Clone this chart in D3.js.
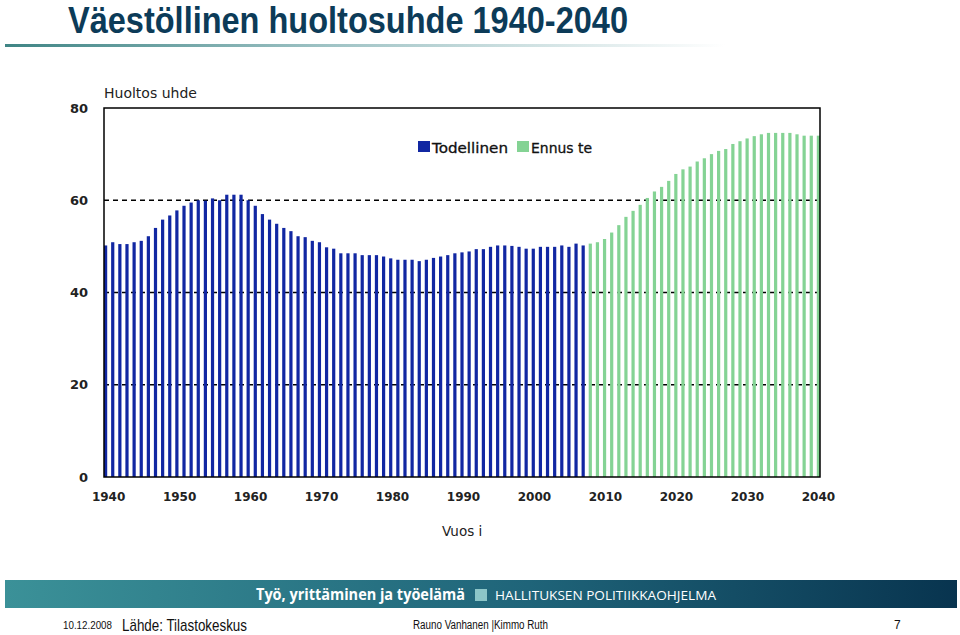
<!DOCTYPE html>
<html>
<head>
<meta charset="utf-8">
<script src="https://cdn.jsdelivr.net/npm/d3@7"></script>
<style>
  body { margin: 0; background: #fff; }
  svg { display: block; }
</style>
</head>
<body>
<div id="chart"></div>
<script>
// Category axis: every year 1940-2040
const years = d3.range(1940, 2041);

// Actual dependency ratio 1940-2007 (Todellinen)
const actualYears = d3.range(1940, 2008);
const actualValues = [
  50.2, 50.9, 50.5, 50.5, 50.9, 51.2, 52.2, 54.0, 55.8, 56.7,
  57.8, 58.8, 59.5, 60.0, 59.9, 60.4, 60.0, 61.2, 61.2, 61.2,
  60.0, 58.8, 57.0, 55.8, 54.9, 54.0, 53.3, 52.2, 52.0, 51.2,
  50.9, 49.8, 49.5, 48.5, 48.5, 48.5, 48.1, 48.1, 48.1, 47.8,
  47.4, 47.1, 47.1, 47.1, 46.8, 47.1, 47.5, 47.8, 48.1, 48.5,
  48.7, 48.9, 49.4, 49.4, 49.9, 50.2, 50.2, 50.1, 49.9, 49.5,
  49.5, 49.9, 49.9, 49.9, 50.2, 49.9, 50.6, 50.2
];

// Forecast 2008-2040 (Ennuste)
const forecastYears = d3.range(2008, 2041);
const forecastValues = [
  50.6, 50.9, 51.6, 53.0, 54.6, 56.4, 57.7, 59.0, 60.5, 61.9,
  62.9, 64.2, 65.7, 66.7, 67.3, 68.4, 69.1, 70.0, 70.7, 71.1,
  72.2, 72.8, 73.4, 73.9, 74.3, 74.6, 74.6, 74.6, 74.6, 74.3,
  74.0, 74.0, 74.0
];

const yTicks = [0, 20, 40, 60, 80];
const gridTicks = [20, 40, 60];
const xTickYears = [1940, 1950, 1960, 1970, 1980, 1990, 2000, 2010, 2020, 2030, 2040];

const series = [
  { name: "Todellinen", label: "Todellinen", color: "#1127a2", years: actualYears, values: actualValues },
  { name: "Ennuste", label: "Ennus te", color: "#84d394", years: forecastYears, values: forecastValues }
];

const W = 960, H = 635;
const svg = d3.select("#chart").append("svg")
    .attr("width", W)
    .attr("height", H);

const defs = svg.append("defs");

// gradient under the title
const lineGrad = defs.append("linearGradient").attr("id", "titleLine");
lineGrad.append("stop").attr("offset", "0%").attr("stop-color", "#3f8585");
lineGrad.append("stop").attr("offset", "45%").attr("stop-color", "#9fc3c5");
lineGrad.append("stop").attr("offset", "100%").attr("stop-color", "#ffffff");

// gradient of the footer banner
const bannerGrad = defs.append("linearGradient").attr("id", "banner");
bannerGrad.append("stop").attr("offset", "0%").attr("stop-color", "#3b9198");
bannerGrad.append("stop").attr("offset", "55%").attr("stop-color", "#1f6479");
bannerGrad.append("stop").attr("offset", "100%").attr("stop-color", "#08344f");

// Title (narrow face is not installed, so squeeze Liberation Sans bold)
svg.append("text")
    .attr("x", 68)
    .attr("y", 33)
    .attr("font-family", "'Liberation Sans', Arial, sans-serif")
    .attr("font-weight", "bold")
    .attr("font-size", 37)
    .attr("fill", "#0c3b58")
    .attr("textLength", 560)
    .attr("lengthAdjust", "spacingAndGlyphs")
    .text("Väestöllinen huoltosuhde 1940-2040");

svg.append("rect")
    .attr("x", 5).attr("y", 44)
    .attr("width", 720).attr("height", 3)
    .attr("fill", "url(#titleLine)");

// Chart area
const plotLeft = 104, plotRight = 820, plotTop = 108, plotBottom = 477;

const x = d3.scaleBand()
    .domain(years)
    .range([plotLeft, plotRight])
    .paddingInner(0.55)
    .paddingOuter(0);

const y = d3.scaleLinear()
    .domain([0, 80])
    .range([plotBottom, plotTop]);

// dashed gridlines
svg.append("g")
  .selectAll("line")
  .data(gridTicks)
  .enter().append("line")
    .attr("x1", plotLeft)
    .attr("x2", plotRight)
    .attr("y1", d => y(d))
    .attr("y2", d => y(d))
    .attr("stroke", "#000")
    .attr("stroke-width", 1.5)
    .attr("stroke-dasharray", "5,4");

// bars
series.forEach(s => {
    svg.append("g")
      .selectAll("rect")
      .data(s.years.map((yr, i) => ({ year: yr, value: s.values[i] })))
      .enter().append("rect")
        .attr("x", d => x(d.year))
        .attr("y", d => y(d.value))
        .attr("width", x.bandwidth())
        .attr("height", d => y(0) - y(d.value))
        .attr("fill", s.color);
});

// frame
svg.append("rect")
    .attr("x", plotLeft)
    .attr("y", plotTop)
    .attr("width", plotRight - plotLeft)
    .attr("height", plotBottom - plotTop)
    .attr("fill", "none")
    .attr("stroke", "#000")
    .attr("stroke-width", 1.5);

// y axis labels
svg.append("g")
  .selectAll("text")
  .data(yTicks)
  .enter().append("text")
    .attr("x", 88)
    .attr("y", d => y(d))
    .attr("dy", "0.35em")
    .attr("text-anchor", "end")
    .attr("font-family", "'DejaVu Sans', sans-serif")
    .attr("font-weight", "bold")
    .attr("font-size", 13)
    .attr("fill", "#222")
    .text(d => d);

// x axis labels
svg.append("g")
  .selectAll("text")
  .data(xTickYears)
  .enter().append("text")
    .attr("x", d => x(d) + x.bandwidth() / 2 + (2040 - d) * 0.03)
    .attr("y", 497)
    .attr("dy", "0.35em")
    .attr("text-anchor", "middle")
    .attr("font-family", "'DejaVu Sans', sans-serif")
    .attr("font-weight", "bold")
    .attr("font-size", 12)
    .attr("fill", "#222")
    .text(d => d);

// axis titles
svg.append("text")
    .attr("x", 104)
    .attr("y", 98)
    .attr("font-family", "'DejaVu Sans', sans-serif")
    .attr("font-size", 14)
    .attr("fill", "#222")
    .text("Huoltos uhde");

svg.append("text")
    .attr("x", 442)
    .attr("y", 536)
    .attr("font-family", "'DejaVu Sans', sans-serif")
    .attr("font-size", 13.5)
    .attr("fill", "#222")
    .text("Vuos i");

// legend
const legend = svg.append("g")
    .attr("transform", "translate(418,141)");

const legendX = [0, 99];
const legendTextW = [76, 61];
series.forEach((s, i) => {
    legend.append("rect")
        .attr("x", legendX[i])
        .attr("y", 0)
        .attr("width", 12)
        .attr("height", 11)
        .attr("fill", s.color);
    legend.append("text")
        .attr("x", legendX[i] + 14)
        .attr("y", 11.5)
        .attr("font-family", "'DejaVu Sans', sans-serif")
        .attr("font-size", 14)
        .attr("fill", "#111")
        .attr("stroke", "#111")
        .attr("stroke-width", 0.3)
        .attr("textLength", legendTextW[i])
        .attr("lengthAdjust", "spacingAndGlyphs")
        .text(s.label);
});

// footer banner
svg.append("rect")
    .attr("x", 5).attr("y", 580)
    .attr("width", 952).attr("height", 28)
    .attr("fill", "url(#banner)");

svg.append("text")
    .attr("x", 256)
    .attr("y", 600)
    .attr("font-family", "'Open Sans', sans-serif")
    .attr("font-weight", "bold")
    .attr("font-size", 16)
    .attr("fill", "#fff")
    .attr("textLength", 209)
    .attr("lengthAdjust", "spacingAndGlyphs")
    .text("Työ, yrittäminen ja työelämä");

svg.append("rect")
    .attr("x", 475).attr("y", 589)
    .attr("width", 12).attr("height", 12)
    .attr("fill", "#8cc6c8");

svg.append("text")
    .attr("x", 495)
    .attr("y", 600)
    .attr("font-family", "'Open Sans', sans-serif")
    .attr("font-size", 13.5)
    .attr("fill", "#fff")
    .attr("textLength", 221)
    .attr("lengthAdjust", "spacingAndGlyphs")
    .text("HALLITUKSEN POLITIIKKAOHJELMA");

// bottom line texts, squeezed to the narrow widths of the original
const sans = "'Liberation Sans', Arial, sans-serif";
svg.append("text")
    .attr("x", 63).attr("y", 629)
    .attr("font-family", sans)
    .attr("font-size", 11)
    .attr("fill", "#111")
    .attr("textLength", 49)
    .attr("lengthAdjust", "spacingAndGlyphs")
    .text("10.12.2008");

svg.append("text")
    .attr("x", 122).attr("y", 631)
    .attr("font-family", sans)
    .attr("font-size", 17)
    .attr("fill", "#111")
    .attr("textLength", 125)
    .attr("lengthAdjust", "spacingAndGlyphs")
    .text("Lähde: Tilastokeskus");

svg.append("text")
    .attr("x", 413).attr("y", 629)
    .attr("font-family", sans)
    .attr("font-size", 12)
    .attr("fill", "#111")
    .attr("textLength", 135)
    .attr("lengthAdjust", "spacingAndGlyphs")
    .text("Rauno Vanhanen |Kimmo Ruth");

svg.append("text")
    .attr("x", 894).attr("y", 629)
    .attr("font-family", sans)
    .attr("font-size", 12)
    .attr("fill", "#111")
    .text("7");
</script>
</body>
</html>
